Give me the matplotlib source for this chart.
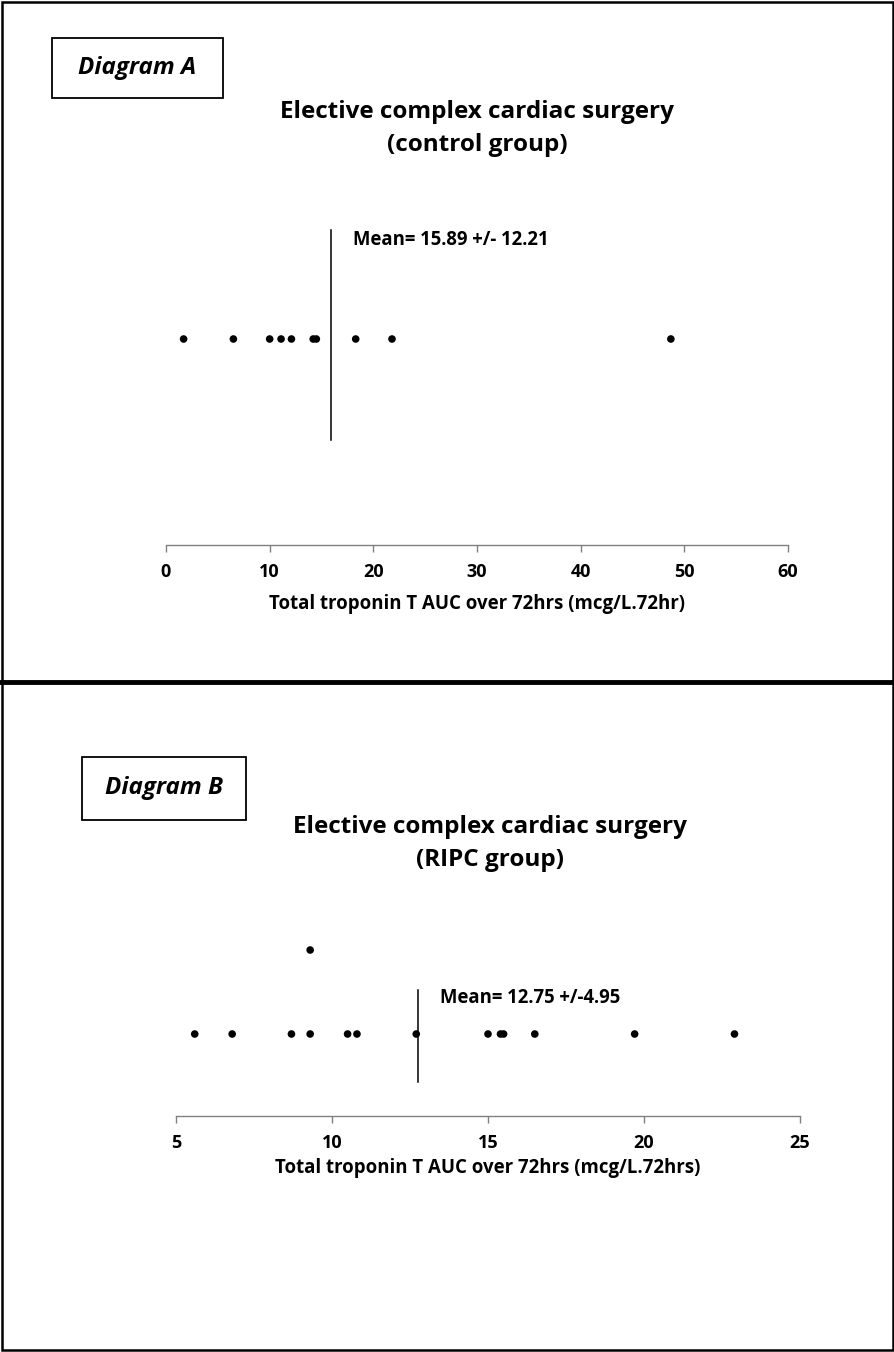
import matplotlib
matplotlib.use("Agg")
import matplotlib.pyplot as plt
from matplotlib.patches import Rectangle
from matplotlib.lines import Line2D

plt.rcParams['font.family'] = ['Open Sans', 'DejaVu Sans']
plt.rcParams['font.weight'] = 'bold'

W, H = 895, 1352

# Diagram A: control group
control_values = [1.7, 6.5, 10.0, 11.1, 12.1, 14.2, 14.5, 18.3, 21.8, 48.7]
control_mean, control_sd = 15.89, 12.21
control_ticks = [0, 10, 20, 30, 40, 50, 60]
control_title = "Elective complex cardiac surgery\n(control group)"
control_xlabel = "Total troponin T AUC over 72hrs (mcg/L.72hr)"

# Diagram B: RIPC group
ripc_values = [5.6, 6.8, 8.7, 9.3, 9.3, 10.5, 10.8, 12.7, 15.0, 15.4, 15.5, 16.5, 19.7, 22.9]
ripc_mean, ripc_sd = 12.75, 4.95
ripc_ticks = [5, 10, 15, 20, 25]
ripc_title = "Elective complex cardiac surgery\n(RIPC group)"
ripc_xlabel = "Total troponin T AUC over 72hrs (mcg/L.72hrs)"


def fx(px):
    return px / W


def fy(py):
    return 1 - py / H


fig = plt.figure(figsize=(W / 100, H / 100), dpi=100)
renderer = fig.canvas.get_renderer()


def size_for_width(text, width_px, **kw):
    # font size at which a single line of text spans width_px
    t = fig.text(0, 0, text, fontsize=10, **kw)
    w = t.get_window_extent(renderer).width
    t.remove()
    return 10 * width_px / w


def stack_levels(values):
    # repeated values are stacked one above the other
    seen = {}
    levels = []
    for v in values:
        levels.append(seen.get(v, 0))
        seen[v] = seen.get(v, 0) + 1
    return levels


TITLE_SIZE = size_for_width("Elective complex cardiac surgery", 395, fontweight='bold')
MEAN_SIZE = size_for_width("Mean= 15.89 +/- 12.21", 196, fontweight='bold')
XLABEL_SIZE = size_for_width(control_xlabel, 416, fontweight='bold')
TAG_SIZE = size_for_width("Diagram A", 118, fontweight='bold', style='italic')


def strip_panel(values, mean, sd, ticks, left, right, top, axis_y, row_y,
                line_top, line_bot, text_y, mean_text, xlabel, label_gap, unit=84):
    ax = fig.add_axes([fx(left), fy(axis_y), fx(right - left), (axis_y - top) / H])
    ax.set_xlim(ticks[0], ticks[-1])
    ax.set_ylim(-(axis_y - row_y) / unit, (row_y - top) / unit)
    ax.scatter(values, stack_levels(values), s=30, color='black', zorder=3,
               edgecolors='none')
    ax.plot([mean, mean], [-(line_bot - row_y) / unit, (row_y - line_top) / unit],
            color='black', lw=1.1)
    ax.annotate(mean_text, xy=(mean, (row_y - text_y) / unit),
                xytext=(16, 0), textcoords='offset points', va='center', ha='left',
                fontsize=MEAN_SIZE, fontweight='bold')
    for s in ['left', 'right', 'top']:
        ax.spines[s].set_visible(False)
    ax.spines['bottom'].set_color('#808080')
    ax.spines['bottom'].set_linewidth(1.0)
    ax.set_yticks([])
    ax.set_xticks(ticks)
    ax.set_xticklabels([str(t) for t in ticks], fontsize=13, fontweight='bold')
    ax.tick_params(axis='x', direction='out', length=5, width=1.0, color='#808080',
                   pad=8)
    ax.set_xlabel(xlabel, fontsize=XLABEL_SIZE, fontweight='bold', labelpad=label_gap)
    ax.patch.set_visible(False)
    return ax


def label_box(text, x0, y0, x1, y1):
    fig.add_artist(Rectangle((fx(x0), fy(y1)), fx(x1 - x0), (y1 - y0) / H,
                             transform=fig.transFigure, fill=False, lw=1.3,
                             edgecolor='black'))
    fig.text(fx((x0 + x1) / 2), fy((y0 + y1) / 2), text, ha='center', va='center',
             fontsize=TAG_SIZE, fontweight='bold', style='italic')


def title(text, cx, y1, gap=33):
    for i, line in enumerate(text.split("\n")):
        fig.text(fx(cx), fy(y1 + i * gap), line, ha='center', va='center',
                 fontsize=TITLE_SIZE, fontweight='bold')


# frames around both diagrams
fig.add_artist(Rectangle((fx(2), fy(1350)), fx(891), 1348 / H, transform=fig.transFigure,
                         fill=False, lw=1.8, edgecolor='black'))
fig.add_artist(Line2D([0, 1], [fy(682), fy(682)], transform=fig.transFigure,
                      color='black', lw=3.5))

# Diagram A
label_box("Diagram A", 52, 38, 223, 98)
title(control_title, 477, 112)
strip_panel(control_values, control_mean, control_sd, control_ticks,
            left=166, right=788, top=200, axis_y=545, row_y=339,
            line_top=230, line_bot=440, text_y=240,
            mean_text=f"Mean= {control_mean:.2f} +/- {control_sd:.2f}",
            xlabel=control_xlabel, label_gap=9)

# Diagram B
label_box("Diagram B", 82, 757, 246, 820)
title(ripc_title, 490, 827)
strip_panel(ripc_values, ripc_mean, ripc_sd, ripc_ticks,
            left=176, right=800, top=900, axis_y=1116, row_y=1034,
            line_top=990, line_bot=1082, text_y=998,
            mean_text=f"Mean= {ripc_mean:.2f} +/-{ripc_sd:.2f}",
            xlabel=ripc_xlabel, label_gap=4)

fig.savefig("out.png", dpi=100)
